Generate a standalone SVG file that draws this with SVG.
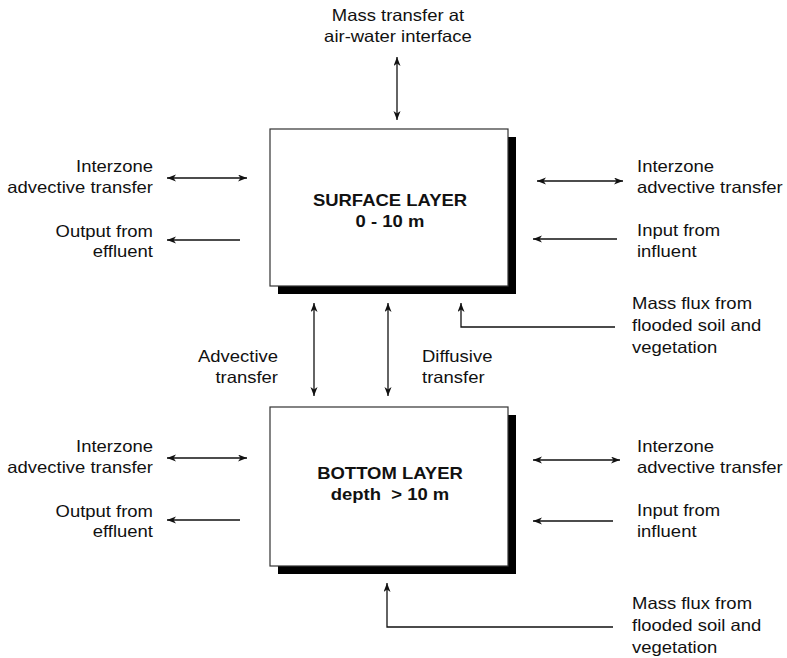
<svg xmlns="http://www.w3.org/2000/svg" width="787" height="658" viewBox="0 0 787 658">
<defs>
<marker id="ah" markerWidth="10" markerHeight="8" refX="9" refY="3.5" orient="auto-start-reverse" markerUnits="userSpaceOnUse">
<path d="M0,0 L9,3.5 L0,7 L2.5,3.5 z" fill="#111"/>
</marker>
<style>
text{font-family:"Liberation Sans",Arial,sans-serif;font-size:16.5px;fill:#111}
.b{font-weight:bold}
.box{fill:#fff;stroke:#333;stroke-width:1.2}
.sh{fill:#000}
.c line,.c path{stroke:#111;stroke-width:1.3;fill:none}
.d{marker-start:url(#ah);marker-end:url(#ah)}
.s{marker-end:url(#ah)}
</style>
</defs>
<rect width="787" height="658" fill="#fff"/>

<g id="surface">
<rect class="sh" x="278" y="137" width="238" height="157"/>
<rect class="box" x="270" y="129" width="238" height="157"/>
<text class="b" text-anchor="middle" transform="translate(390,206) scale(1.12,1)">SURFACE LAYER</text>
<text class="b" text-anchor="middle" transform="translate(390,227) scale(1.12,1)">0 - 10 m</text>
</g>

<g id="bottom">
<rect class="sh" x="278" y="415" width="238" height="159"/>
<rect class="box" x="270" y="407" width="238" height="159"/>
<text class="b" text-anchor="middle" transform="translate(390,479) scale(1.12,1)">BOTTOM LAYER</text>
<text class="b" text-anchor="middle" transform="translate(390,500) scale(1.12,1)" xml:space="preserve">depth  &gt; 10 m</text>
</g>

<g id="labels">
<text text-anchor="middle" transform="translate(398,21) scale(1.12,1)">Mass transfer at</text>
<text text-anchor="middle" transform="translate(398,42) scale(1.12,1)">air-water interface</text>

<text text-anchor="end" transform="translate(153,172) scale(1.12,1)">Interzone</text>
<text text-anchor="end" transform="translate(153,193) scale(1.12,1)">advective transfer</text>
<text text-anchor="end" transform="translate(153,237) scale(1.12,1)">Output from</text>
<text text-anchor="end" transform="translate(153,257) scale(1.12,1)">effluent</text>

<text transform="translate(637,172) scale(1.12,1)">Interzone</text>
<text transform="translate(637,193) scale(1.12,1)">advective transfer</text>
<text transform="translate(637,236) scale(1.12,1)">Input from</text>
<text transform="translate(637,257) scale(1.12,1)">influent</text>

<text transform="translate(632,309) scale(1.12,1)">Mass flux from</text>
<text transform="translate(632,331) scale(1.12,1)">flooded soil and</text>
<text transform="translate(632,353) scale(1.12,1)">vegetation</text>

<text text-anchor="end" transform="translate(278,362) scale(1.12,1)">Advective</text>
<text text-anchor="end" transform="translate(278,383) scale(1.12,1)">transfer</text>
<text transform="translate(422,362) scale(1.12,1)">Diffusive</text>
<text transform="translate(422,383) scale(1.12,1)">transfer</text>

<text text-anchor="end" transform="translate(153,452) scale(1.12,1)">Interzone</text>
<text text-anchor="end" transform="translate(153,473) scale(1.12,1)">advective transfer</text>
<text text-anchor="end" transform="translate(153,517) scale(1.12,1)">Output from</text>
<text text-anchor="end" transform="translate(153,537) scale(1.12,1)">effluent</text>

<text transform="translate(637,452) scale(1.12,1)">Interzone</text>
<text transform="translate(637,473) scale(1.12,1)">advective transfer</text>
<text transform="translate(637,516) scale(1.12,1)">Input from</text>
<text transform="translate(637,537) scale(1.12,1)">influent</text>

<text transform="translate(632,609) scale(1.12,1)">Mass flux from</text>
<text transform="translate(632,631) scale(1.12,1)">flooded soil and</text>
<text transform="translate(632,653) scale(1.12,1)">vegetation</text>
</g>

<g id="connectors" class="c">
<line class="d" x1="397" y1="57" x2="397" y2="120"/>
<line class="d" x1="167" y1="178" x2="247" y2="178"/>
<line class="s" x1="240" y1="240" x2="167" y2="240"/>
<line class="d" x1="537" y1="181" x2="623" y2="181"/>
<line class="s" x1="617" y1="239" x2="533" y2="239"/>
<line class="d" x1="314" y1="303" x2="314" y2="396"/>
<line class="d" x1="388" y1="303" x2="388" y2="396"/>
<path class="s" d="M615,327 H461 V303"/>
<line class="d" x1="167" y1="458" x2="247" y2="458"/>
<line class="s" x1="240" y1="520" x2="167" y2="520"/>
<line class="d" x1="533" y1="460" x2="620" y2="460"/>
<line class="s" x1="613" y1="521" x2="533" y2="521"/>
<path class="s" d="M613,627 H387 V583"/>
</g>
</svg>
